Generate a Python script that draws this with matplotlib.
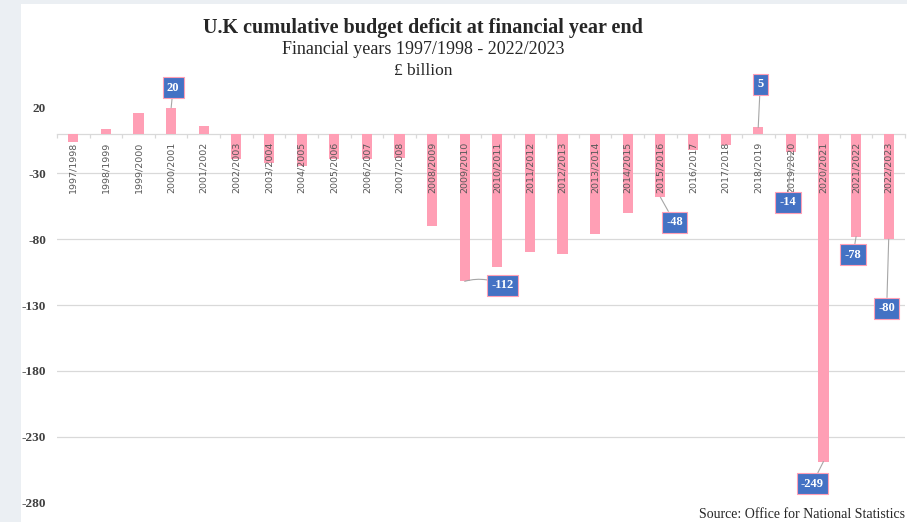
import matplotlib
matplotlib.use("Agg")
import matplotlib.pyplot as plt
from matplotlib.patches import Rectangle
import numpy as np

# Financial years and cumulative budget balance (£ billion)
years = ["1997/1998", "1998/1999", "1999/2000", "2000/2001", "2001/2002",
         "2002/2003", "2003/2004", "2004/2005", "2005/2006", "2006/2007",
         "2007/2008", "2008/2009", "2009/2010", "2010/2011", "2011/2012",
         "2012/2013", "2013/2014", "2014/2015", "2015/2016", "2016/2017",
         "2017/2018", "2018/2019", "2019/2020", "2020/2021", "2021/2022",
         "2022/2023"]
balance = [-6, 4, 16, 20, 6,
           -19, -22, -24, -19, -19,
           -18, -70, -112, -101, -90,
           -91, -76, -60, -48, -12,
           -8, 5, -14, -249, -78,
           -80]

# Years that carry a value callout, with callout offsets in pixels
callout_years = ["2000/2001", "2018/2019", "2009/2010", "2015/2016",
                 "2019/2020", "2020/2021", "2021/2022", "2022/2023"]
callout_dx = [2, 2, 38, 14, -3, -11, -3, -2]
callout_dy = [20, 43, -4, -25, -50, -22, -18, -69]

y_ticks = [20, -30, -80, -130, -180, -230, -280]

BAR = "#ff9fb5"
BOX = "#4472c4"
SERIF = "Liberation Serif"

fig = plt.figure(figsize=(9.07, 5.22), dpi=100, facecolor="#ebeff3")
W, H = 907, 522
fig.patches.append(Rectangle((21 / W, 0), 1, (H - 4) / H, transform=fig.transFigure,
                             facecolor="white", edgecolor="none", zorder=-10))

ax = fig.add_axes([57 / W, (H - 502.3) / H, (905 - 57) / W, (502.3 - 107.7) / H])
ax.set_facecolor("none")
ax.set_zorder(2)

x = np.arange(len(years))
ax.bar(x, balance, width=0.31, color=BAR, zorder=2)

ax.set_xlim(-0.5, len(years) - 0.5)
ax.set_ylim(-280, 20)

# horizontal gridlines
for v in y_ticks[1:-1]:
    ax.axhline(v, color="#d9d9d9", lw=0.9, zorder=1)

for s in ["top", "right", "left"]:
    ax.spines[s].set_visible(False)
ax.spines["bottom"].set_position(("data", 0))
ax.spines["bottom"].set_color("#d9d9d9")
ax.spines["bottom"].set_linewidth(0.9)
ax.spines["bottom"].set_zorder(1)

ax.set_yticks(y_ticks)
ax.set_yticklabels([str(v) for v in y_ticks], fontfamily=SERIF,
                   fontweight="bold", fontsize=9.5, color="#404040")
ax.tick_params(axis="y", length=0, pad=8)

ax.set_xticks(x)
ax.set_xticklabels(years, rotation=90, fontsize=6.8, color="#595959",
                   fontfamily="DejaVu Sans", va="top")
ax.tick_params(axis="x", which="major", length=0, pad=5.5)
ax.set_xticks(np.arange(len(years) + 1) - 0.5, minor=True)
ax.tick_params(axis="x", which="minor", length=3, color="#d9d9d9", width=0.9,
               direction="out")
# category labels sit on top of the bars
ax.xaxis.set_zorder(3)

# value callouts
for yr, dx, dy in zip(callout_years, callout_dx, callout_dy):
    i = years.index(yr)
    v = balance[i]
    ax.annotate(str(v), xy=(i, v), xytext=(dx, dy), textcoords="offset pixels",
                ha="center", va="center", fontsize=9, fontweight="bold",
                fontfamily=SERIF, color="white", zorder=5,
                bbox=dict(boxstyle="square,pad=0.35", facecolor=BOX,
                          edgecolor="#ff9fb5", linewidth=0.8),
                arrowprops=dict(arrowstyle="-", color="#a6a6a6", lw=0.8,
                                shrinkA=0, shrinkB=0,
                                connectionstyle="arc3,rad=0.2" if yr == "2009/2010" else "arc3"))

# titles
cx = 423 / W
fig.text(cx, 1 - 28 / H, "U.K cumulative budget deficit at financial year end",
         ha="center", va="center", fontsize=14.5, fontweight="bold",
         fontfamily=SERIF, color="#262626")
fig.text(cx, 1 - 50 / H, "Financial years 1997/1998 - 2022/2023",
         ha="center", va="center", fontsize=13, fontfamily=SERIF, color="#262626")
fig.text(cx, 1 - 71 / H, "£ billion",
         ha="center", va="center", fontsize=12.5, fontfamily=SERIF, color="#262626")

fig.text(905 / W, 1 - 521 / H, "Source: Office for National Statistics",
         ha="right", va="bottom", fontsize=10, fontfamily=SERIF, color="#262626")

fig.savefig("out.png", dpi=100, facecolor=fig.get_facecolor())
